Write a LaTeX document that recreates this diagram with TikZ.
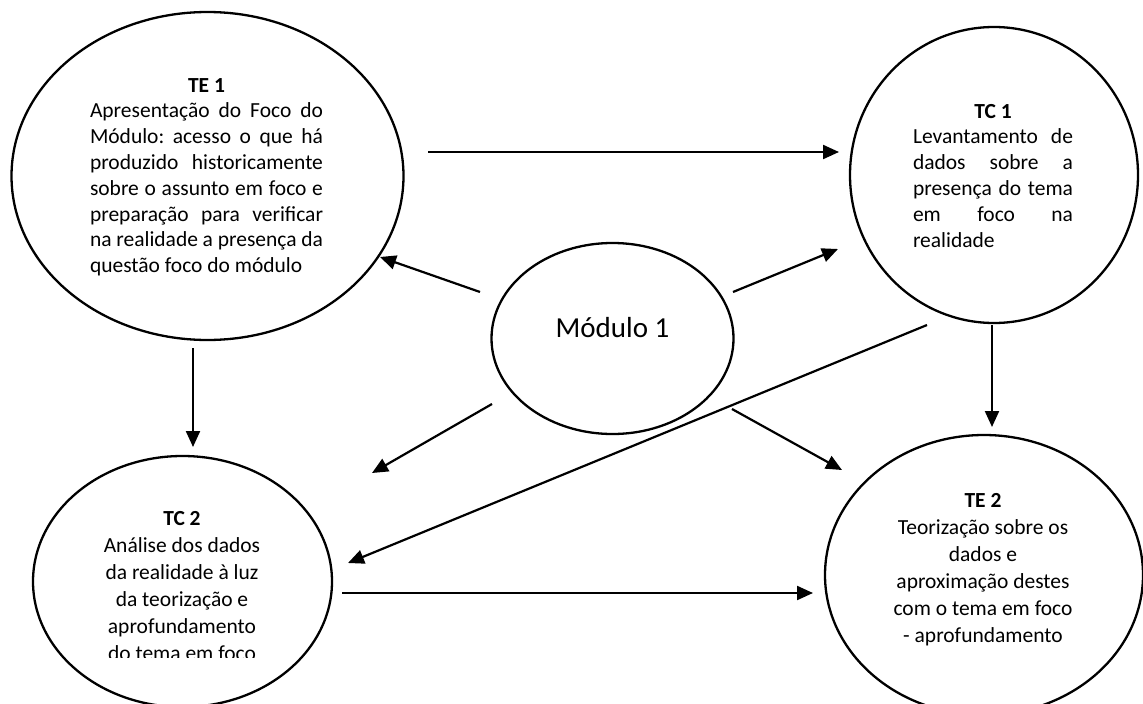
\documentclass[tikz,border=0pt]{standalone}
\usepackage{fontspec}
\setmainfont{Carlito}
\usetikzlibrary{shapes.geometric,arrows.meta}
\frenchspacing

% text-line helpers for the bubble texts
\newlength\colw
\newcommand\jst[1]{\hbox{\makebox[\colw][s]{#1}}}
\newcommand\lft[1]{\hbox to\colw{#1\hfil}}
\newcommand\ctr[1]{\hbox to\colw{\hfil#1\hfil}}

\tikzset{
  bubble/.style={draw, ellipse, line width=2.3pt, inner sep=0pt},
  btext/.style={anchor=base, inner sep=0pt, font=\fontsize{21.5}{25.8}\selectfont},
  flow/.style={line width=2.2pt, -{Triangle[length=16pt,width=14pt]}}
}

\begin{document}
\begin{tikzpicture}[x=1pt,y=-1pt]
\clip (0,0) rectangle (1143,704);
\fill[white] (0,0) rectangle (1143,704);

% bubbles
\node[bubble, minimum width=392pt, minimum height=328pt] (te1) at (207.5,176) {};
\node[bubble, minimum width=288pt, minimum height=296pt] (tc1) at (994,175) {};
\node[bubble, minimum width=242pt, minimum height=191pt] (mod) at (612.5,338.5) {};
\node[bubble, minimum width=299pt, minimum height=251pt] (tc2) at (182.5,581.5) {};
\node[bubble, minimum width=318pt, minimum height=280pt] (te2) at (984,575) {};

% bubble texts
\node[btext] (te1t) at (206.5,92) {\vtop{\baselineskip=25.8pt \colw=233pt
  \ctr{\textbf{TE 1}}
  \jst{Apresentação do Foco do}
  \jst{Módulo: acesso o que há}
  \jst{produzido historicamente}
  \jst{sobre o assunto em foco e}
  \jst{preparação para verificar}
  \jst{na realidade a presença da}
  \lft{questão foco do módulo}}};

\node[btext] (tc1t) at (993,118) {\vtop{\baselineskip=25.8pt \colw=160pt
  \ctr{\textbf{TC 1}}
  \jst{Levantamento de}
  \jst{dados sobre a}
  \jst{presença do tema}
  \jst{em foco na}
  \lft{realidade}}};

\node[btext, font=\fontsize{29}{34}\selectfont] (modt) at (612.5,337) {Módulo 1};

% the last line of this text is cut off at the bottom
\begin{scope}
\clip (0,0) rectangle (1143,657);
\node[btext] (tc2t) at (182,525) {\vtop{\baselineskip=27pt \colw=240pt
  \ctr{\textbf{TC 2}}
  \ctr{Análise dos dados}
  \ctr{da realidade à luz}
  \ctr{da teorização e}
  \ctr{aprofundamento}
  \ctr{do tema em foco}}};
\end{scope}

\node[btext] (te2t) at (983,507) {\vtop{\baselineskip=27pt \colw=240pt
  \ctr{\textbf{TE 2}}
  \ctr{Teorização sobre os}
  \ctr{dados e}
  \ctr{aproximação destes}
  \ctr{com o tema em foco}
  \ctr{- aprofundamento}}};

% connector end points
\coordinate (a1s) at (428,152);  \coordinate (a1e) at (839,152);
\coordinate (a2s) at (480,292);  \coordinate (a2e) at (380,257);
\coordinate (a3s) at (733,292);  \coordinate (a3e) at (838,249);
\coordinate (a4s) at (193,348);  \coordinate (a4e) at (193,447);
\coordinate (a5s) at (492,404);  \coordinate (a5e) at (372,473);
\coordinate (a6s) at (732,409);  \coordinate (a6e) at (842,470);
\coordinate (a7s) at (927,325);  \coordinate (a7e) at (348,563);
\coordinate (a8s) at (992,325);  \coordinate (a8e) at (992,427);
\coordinate (a9s) at (342,593);  \coordinate (a9e) at (813,593);

% connectors
\draw[flow] (a1s) -- (a1e);
\draw[flow] (a2s) -- (a2e);
\draw[flow] (a3s) -- (a3e);
\draw[flow] (a4s) -- (a4e);
\draw[flow] (a5s) -- (a5e);
\draw[flow] (a6s) -- (a6e);
\draw[flow] (a7s) -- (a7e);
\draw[flow] (a8s) -- (a8e);
\draw[flow] (a9s) -- (a9e);
\end{tikzpicture}
\end{document}
